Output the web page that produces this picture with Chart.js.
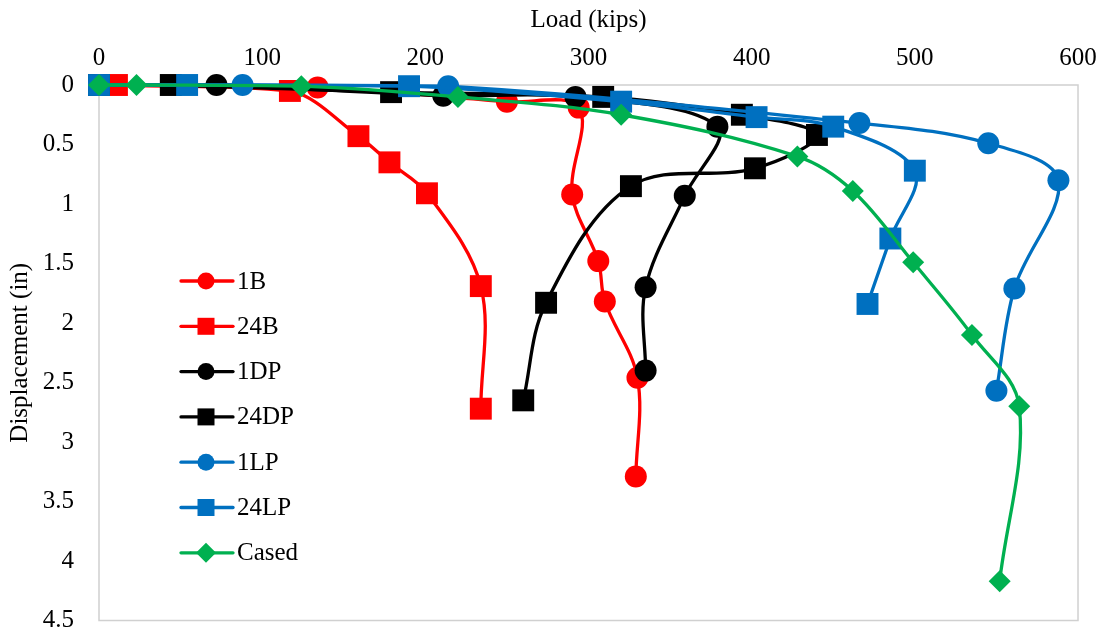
<!DOCTYPE html>
<html>
<head>
    <title>Load vs Displacement</title>
    <script src="https://cdn.jsdelivr.net/npm/chart.js"></script>
    <style>
        body { margin: 0; background: #fff; }
    </style>
</head>
<body>
    <canvas id="loadChart" width="1108" height="636"></canvas>
    <script>
        // Load (kips) and displacement (in)
        const seriesNames = ['1B', '24B', '1DP', '24DP', '1LP', '24LP', 'Cased'];

        const load1B = [0, 134, 250, 294, 290, 306, 310, 330, 329];
        const disp1B = [0, 0.02, 0.14, 0.19, 0.92, 1.48, 1.82, 2.46, 3.29];

        const load24B = [0, 11, 117, 159, 178, 201, 234, 234];
        const disp24B = [0, 0, 0.05, 0.43, 0.65, 0.91, 1.69, 2.72];

        const load1DP = [0, 72, 211, 292, 379, 359, 335, 335];
        const disp1DP = [0, 0, 0.09, 0.10, 0.35, 0.93, 1.70, 2.40];

        const load24DP = [0, 44, 179, 309, 394, 440, 402, 326, 274, 260];
        const disp24DP = [0, 0, 0.06, 0.10, 0.25, 0.42, 0.70, 0.85, 1.83, 2.65];

        const load1LP = [0, 88, 214, 466, 545, 588, 561, 550];
        const disp1LP = [0, 0, 0.01, 0.32, 0.49, 0.80, 1.71, 2.57];

        const load24LP = [0, 54, 190, 320, 403, 450, 500, 485, 471];
        const disp24LP = [0, 0, 0.01, 0.14, 0.27, 0.35, 0.72, 1.29, 1.84];

        const loadCased = [0, 23, 124, 220, 320, 428, 462, 499, 535, 564, 552];
        const dispCased = [0, 0, 0.01, 0.10, 0.25, 0.60, 0.89, 1.49, 2.10, 2.70, 4.17];

        const xTicks = [0, 100, 200, 300, 400, 500, 600];
        const yTicks = [0, 0.5, 1, 1.5, 2, 2.5, 3, 3.5, 4, 4.5];

        const loads = [load1B, load24B, load1DP, load24DP, load1LP, load24LP, loadCased];
        const disps = [disp1B, disp24B, disp1DP, disp24DP, disp1LP, disp24LP, dispCased];
        const colors = ['#FF0000', '#FF0000', '#000000', '#000000', '#0070C0', '#0070C0', '#00B050'];
        const markers = ['circle', 'rect', 'circle', 'rect', 'circle', 'rect', 'rectRot'];

        const fontFamily = '"Liberation Serif", "Times New Roman", serif';

        const datasets = seriesNames.map((name, i) => ({
            label: name,
            data: loads[i].map((x, k) => ({ x: x, y: disps[i][k] })),
            showLine: true,
            borderColor: colors[i],
            backgroundColor: colors[i],
            borderWidth: 3.3,
            tension: 0.35,
            pointStyle: markers[i],
            pointRadius: markers[i] === 'rect' ? 15.5 : 11,
            pointBorderWidth: 0,
            clip: false,
            order: seriesNames.length - i   // later series drawn on top
        }));

        // Light grey frame round the plot area
        const plotFrame = {
            id: 'plotFrame',
            beforeDatasetsDraw(chart) {
                const a = chart.chartArea;
                const ctx = chart.ctx;
                ctx.save();
                ctx.strokeStyle = '#d0d0d0';
                ctx.lineWidth = 1.5;
                ctx.strokeRect(a.left, a.top, a.right - a.left, a.bottom - a.top);
                ctx.restore();
            }
        };

        // Legend drawn inside the plot, down the left side
        const insideLegend = {
            id: 'insideLegend',
            afterDraw(chart) {
                const a = chart.chartArea;
                const ctx = chart.ctx;
                ctx.save();
                chart.data.datasets.forEach((ds, i) => {
                    const y = a.top + 196 + i * 45.3;
                    const mx = a.left + 107;
                    ctx.strokeStyle = ds.borderColor;
                    ctx.fillStyle = ds.borderColor;
                    ctx.lineWidth = 3.3;
                    ctx.lineCap = 'round';
                    ctx.beginPath();
                    ctx.moveTo(a.left + 82, y);
                    ctx.lineTo(a.left + 134, y);
                    ctx.stroke();
                    ctx.beginPath();
                    if (ds.pointStyle === 'circle') {
                        ctx.arc(mx, y, 8.5, 0, Math.PI * 2);
                    } else if (ds.pointStyle === 'rect') {
                        ctx.rect(mx - 8.5, y - 8.5, 17, 17);
                    } else {
                        ctx.moveTo(mx - 10, y);
                        ctx.lineTo(mx, y - 10);
                        ctx.lineTo(mx + 10, y);
                        ctx.lineTo(mx, y + 10);
                        ctx.closePath();
                    }
                    ctx.fill();
                    ctx.fillStyle = '#000';
                    ctx.font = '25px ' + fontFamily;
                    ctx.textAlign = 'left';
                    ctx.textBaseline = 'middle';
                    ctx.fillText(ds.label, a.left + 138, y + 1);
                });
                ctx.restore();
            }
        };

        const ctx = document.getElementById('loadChart').getContext('2d');
        const loadChart = new Chart(ctx, {
            type: 'scatter',
            data: { datasets: datasets },
            options: {
                responsive: false,
                animation: false,
                layout: { padding: { left: 0, top: 0, right: 30, bottom: 12 } },
                plugins: {
                    legend: { display: false },
                    tooltip: { enabled: false }
                },
                scales: {
                    x: {
                        type: 'linear',
                        position: 'top',
                        min: 0,
                        max: 600,
                        afterBuildTicks: (scale) => { scale.ticks = xTicks.map(v => ({ value: v })); },
                        afterFit: (scale) => { scale.height = 85; },
                        // ticks hidden, their length only sets the label gap
                        grid: { display: false, drawTicks: true, tickLength: 12 },
                        border: { display: false },
                        ticks: {
                            color: '#000',
                            padding: 0,
                            font: { family: fontFamily, size: 25 }
                        },
                        title: {
                            display: true,
                            text: 'Load (kips)',
                            color: '#000',
                            padding: { top: 5, bottom: 0 },
                            font: { family: fontFamily, size: 25, lineHeight: 1.2 }
                        }
                    },
                    y: {
                        type: 'linear',
                        reverse: true,
                        min: 0,
                        max: 4.5,
                        afterBuildTicks: (scale) => { scale.ticks = yTicks.map(v => ({ value: v })); },
                        afterFit: (scale) => { scale.width = 99; },
                        grid: { display: false, drawTicks: true, tickLength: 25 },
                        border: { display: false },
                        ticks: {
                            color: '#000',
                            padding: 0,
                            callback: (v) => String(v),
                            font: { family: fontFamily, size: 25, lineHeight: 0.75 }
                        },
                        title: {
                            display: true,
                            text: 'Displacement (in)',
                            color: '#000',
                            padding: { top: 5, bottom: 0 },
                            font: { family: fontFamily, size: 25, lineHeight: 1.2 }
                        }
                    }
                }
            },
            plugins: [plotFrame, insideLegend]
        });
    </script>
</body>
</html>
